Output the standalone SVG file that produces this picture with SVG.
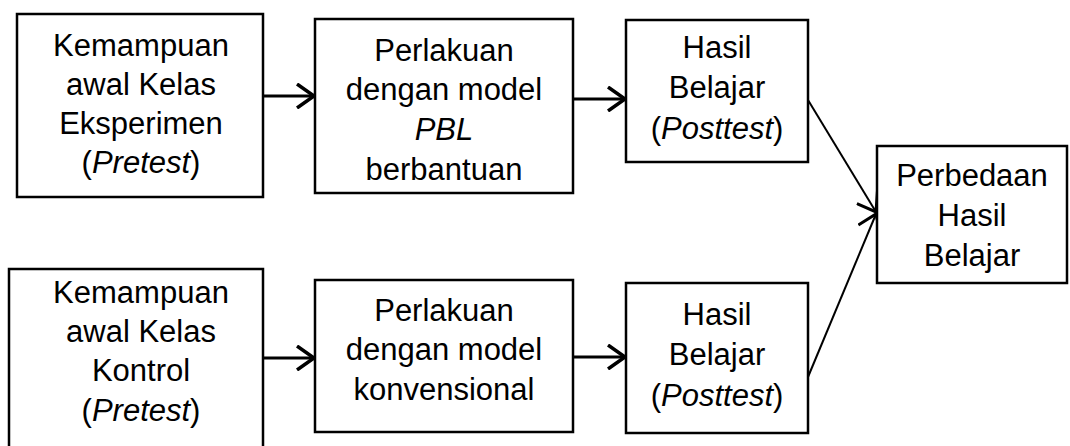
<svg xmlns="http://www.w3.org/2000/svg" width="1070" height="446" viewBox="0 0 1070 446">
<defs>
<style>
.box{fill:#fff;stroke:#000;stroke-width:2.5}
text{font-family:"Liberation Sans",Arial,sans-serif;font-size:31px;fill:#000;text-anchor:middle}
.i{font-style:italic}
.arr{stroke:#000;stroke-width:3;fill:none}
.diag{stroke:#000;stroke-width:2;fill:none}
</style>
<marker id="ah" viewBox="0 0 20 26" refX="18" refY="13" markerWidth="20" markerHeight="26" markerUnits="userSpaceOnUse" orient="auto">
<path d="M1,1 L18,13 L1,25" fill="none" stroke="#000" stroke-width="3.5"/>
</marker>
<marker id="ahd" viewBox="0 0 20 26" refX="18" refY="13" markerWidth="20" markerHeight="26" markerUnits="userSpaceOnUse" orient="auto">
<path d="M1,1 L18,13 L1,25" fill="none" stroke="#000" stroke-width="3"/>
</marker>
</defs>
<rect width="1070" height="446" fill="#fff"/>
<g id="connectors">
<line class="arr" x1="263" y1="96" x2="314" y2="96" marker-end="url(#ah)"/>
<line class="arr" x1="573" y1="99" x2="625" y2="99" marker-end="url(#ah)"/>
<line class="arr" x1="263" y1="358" x2="314" y2="358" marker-end="url(#ah)"/>
<line class="arr" x1="573" y1="357" x2="625" y2="357" marker-end="url(#ah)"/>
<line class="diag" x1="808" y1="100" x2="876" y2="212" marker-end="url(#ahd)"/>
<line class="diag" x1="808" y1="377" x2="876" y2="214" marker-end="url(#ahd)"/>
</g>
<g id="n1">
<rect class="box" x="17" y="14" width="246" height="183"/>
<text x="141" y="56">Kemampuan</text>
<text x="141" y="95">awal Kelas</text>
<text x="141" y="134">Eksperimen</text>
<text x="141" y="173">(<tspan class="i">Pretest</tspan>)</text>
</g>
<g id="n2">
<rect class="box" x="315" y="19" width="258" height="174"/>
<text x="444" y="61">Perlakuan</text>
<text x="444" y="100">dengan model</text>
<text x="444" y="140" class="i">PBL</text>
<text x="444" y="180">berbantuan</text>
</g>
<g id="n3">
<rect class="box" x="626" y="20" width="182" height="142"/>
<text x="717" y="58">Hasil</text>
<text x="717" y="98">Belajar</text>
<text x="717" y="139">(<tspan class="i">Posttest</tspan>)</text>
</g>
<g id="n4">
<rect class="box" x="877" y="146" width="190" height="137"/>
<text x="972" y="186">Perbedaan</text>
<text x="972" y="226">Hasil</text>
<text x="972" y="266">Belajar</text>
</g>
<g id="n5">
<rect class="box" x="9" y="269" width="254" height="190"/>
<text x="141" y="303">Kemampuan</text>
<text x="141" y="342">awal Kelas</text>
<text x="141" y="381">Kontrol</text>
<text x="141" y="421">(<tspan class="i">Pretest</tspan>)</text>
</g>
<g id="n6">
<rect class="box" x="315" y="280" width="258" height="152"/>
<text x="444" y="321">Perlakuan</text>
<text x="444" y="360">dengan model</text>
<text x="444" y="400">konvensional</text>
</g>
<g id="n7">
<rect class="box" x="626" y="283" width="182" height="150"/>
<text x="717" y="325">Hasil</text>
<text x="717" y="365">Belajar</text>
<text x="717" y="406">(<tspan class="i">Posttest</tspan>)</text>
</g>
</svg>
